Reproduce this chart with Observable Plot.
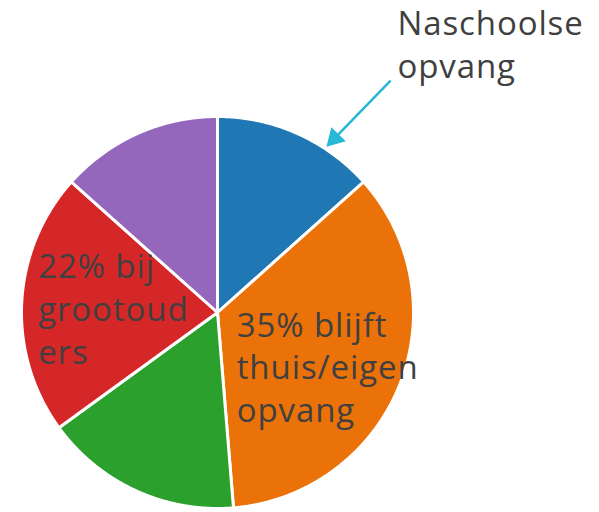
<!DOCTYPE html>
<html>
<head>
<meta charset="utf-8">
<script src="https://cdn.jsdelivr.net/npm/d3@7"></script>
<script src="https://cdn.jsdelivr.net/npm/@observablehq/plot@0.6"></script>
<style>
  html, body { margin: 0; padding: 0; background: #fff; }
  #chart { width: 599px; height: 512px; }
  #chart svg text { letter-spacing: 0.9px; }
</style>
</head>
<body>
<div id="chart"></div>
<script>
// ---- data ----
const categories = ["Naschoolse opvang", "Blijft thuis/eigen opvang", "Overig", "Bij grootouders", "Anders"];
const values = [13.4, 35.3, 16.3, 21.6, 13.4];
const colors = ["#1f77b4", "#eb7209", "#2ca02c", "#d62728", "#9467bd"];
const labelTexts = ["Naschoolse\nopvang", "35% blijft\nthuis/eigen\nopvang", "22% bij\ngrootoud\ners"];
// label anchor positions in pie-radius units (layout)
const labelX = [0.918, 0.098, -0.915];
const labelY = [1.569, 0.033, 0.329];

// ---- geometry from d3.pie ----
const pie = d3.pie().sort(null).value(d => d.value)(categories.map((c, i) => ({category: c, value: values[i]})));
const wedgePts = [];
for (const a of pie) {
  wedgePts.push({category: a.data.category, x: 0, y: 0});
  const steps = Math.max(2, Math.ceil((a.endAngle - a.startAngle) / (Math.PI / 720)));
  for (let k = 0; k <= steps; k++) {
    const t = a.startAngle + (a.endAngle - a.startAngle) * k / steps;
    wedgePts.push({category: a.data.category, x: Math.sin(t), y: Math.cos(t)});
  }
}

const labels = labelTexts.map((t, i) => ({text: t, x: labelX[i], y: labelY[i]}));

// arrow from label to blue slice
const arrowFrom = {x: 0.883, y: 1.183};
const arrowHead = {x: 0.597, y: 0.888};

const chart = Plot.plot({
  width: 599,
  height: 512,
  marginLeft: 21,
  marginRight: 186,
  marginTop: 116,
  marginBottom: 4,
  x: {domain: [-1, 1], axis: null},
  y: {domain: [-1, 1], axis: null},
  color: {domain: categories, range: colors},
  style: {background: "#fff", overflow: "visible"},
  marks: [
    Plot.line(wedgePts, {
      x: "x", y: "y", z: "category",
      fill: "category",
      stroke: "white", strokeWidth: 3, strokeLinejoin: "round",
      curve: "linear-closed"
    }),
    Plot.text(labels, {
      x: "x", y: "y", text: "text",
      textAnchor: "start", lineAnchor: "top",
      fontSize: 33, lineHeight: 1.3,
      fontFamily: "'Open Sans', sans-serif",
      fill: "#404040"
    }),
    Plot.link([{x1: arrowFrom.x, y1: arrowFrom.y, x2: arrowHead.x, y2: arrowHead.y}], {
      x1: "x1", y1: "y1", x2: "x2", y2: "y2",
      stroke: "#27b8d8", strokeWidth: 2.5
    }),
    Plot.dot([arrowHead], {
      x: "x", y: "y", symbol: "triangle", r: 7.5, rotate: 224,
      fill: "#27b8d8", stroke: "none"
    })
  ]
});
document.getElementById("chart").appendChild(chart);
</script>
</body>
</html>
